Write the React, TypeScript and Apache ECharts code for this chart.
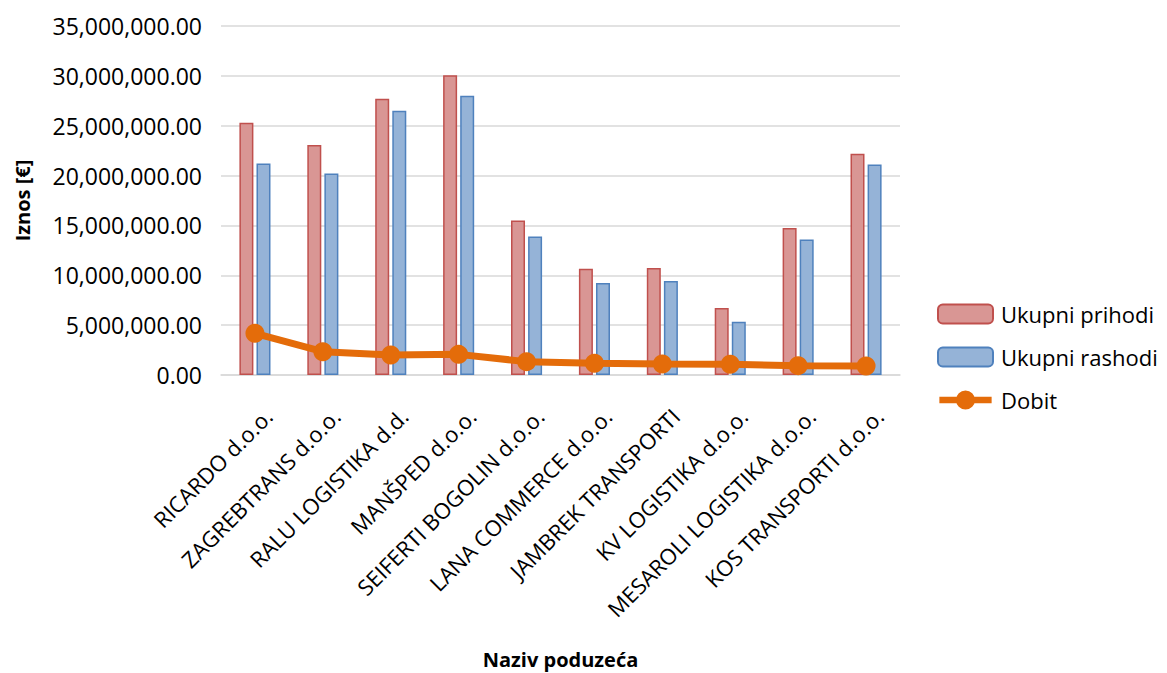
import React, { useEffect, useRef } from "react";
import * as echarts from "echarts";

const categories = [
  "RICARDO d.o.o.",
  "ZAGREBTRANS d.o.o.",
  "RALU LOGISTIKA d.d.",
  "MANŠPED d.o.o.",
  "SEIFERTI BOGOLIN d.o.o.",
  "LANA COMMERCE d.o.o.",
  "JAMBREK TRANSPORTI",
  "KV LOGISTIKA d.o.o.",
  "MESAROLI LOGISTIKA d.o.o.",
  "KOS TRANSPORTI d.o.o.",
];

const prihodi = [25300000, 23070000, 27700000, 30060000, 15500000, 10660000, 10730000, 6720000, 14740000, 22200000];
const rashodi = [21200000, 20200000, 26500000, 28000000, 13900000, 9230000, 9430000, 5350000, 13600000, 21100000];
const dobit = [4180000, 2340000, 2000000, 2070000, 1340000, 1170000, 1100000, 1070000, 940000, 900000];

const FONT = "'Open Sans', 'Noto Sans', sans-serif";

const DOBIT_ICON =
  "path://M0,6.5 L55,6.5 L55,13.5 L0,13.5 Z M17.5,10 A10,10 0 1,1 37.5,10 A10,10 0 1,1 17.5,10 Z";

function fmt(v: number): string {
  return v.toLocaleString("en-US", { minimumFractionDigits: 2, maximumFractionDigits: 2 });
}

export default function App() {
  const ref = useRef<HTMLDivElement>(null);
  useEffect(() => {
    if (!ref.current) return;
    const chart = echarts.init(ref.current, undefined, { renderer: "svg" });
    chart.setOption({
      animation: false,
      backgroundColor: "#ffffff",
      textStyle: { fontFamily: FONT, color: "#000" },
      grid: { left: 221, right: 267, top: 26, bottom: 298, containLabel: false, outerBoundsMode: "none" },
      legend: {
        orient: "vertical",
        left: 937,
        top: 303,
        padding: 0,
        itemWidth: 55,
        itemHeight: 19,
        itemGap: 21,
        textStyle: { fontFamily: FONT, fontSize: 22, color: "#000", padding: [0, 0, 0, 3] },
        data: [
          { name: "Ukupni prihodi" },
          { name: "Ukupni rashodi" },
          { name: "Dobit", icon: DOBIT_ICON },
        ],
      },
      xAxis: {
        type: "category",
        data: categories,
        name: "Naziv poduzeća",
        nameLocation: "middle",
        nameGap: 284,
        nameMoveOverlap: false,
        nameTextStyle: { fontFamily: FONT, fontSize: 20, fontWeight: "bold", color: "#000", verticalAlign: "middle" },
        axisLine: { show: true, lineStyle: { color: "#d9d9d9", width: 1.5 } },
        axisTick: { show: false },
        axisLabel: {
          rotate: 45,
          interval: 0,
          margin: 24,
          align: "right",
          verticalAlign: "top",
          lineHeight: 37,
          fontFamily: FONT,
          fontSize: 22,
          color: "#000",
        },
      },
      yAxis: {
        type: "value",
        min: 0,
        max: 35000000,
        interval: 5000000,
        name: "Iznos [€]",
        nameLocation: "middle",
        nameGap: 199,
        nameRotate: 90,
        nameMoveOverlap: false,
        nameTextStyle: { fontFamily: FONT, fontSize: 20, fontWeight: "bold", color: "#000", verticalAlign: "middle" },
        axisLine: { show: false },
        axisTick: { show: false },
        splitLine: { lineStyle: { color: "#d9d9d9", width: 1.5 } },
        axisLabel: {
          margin: 19,
          fontFamily: FONT,
          fontSize: 23,
          color: "#000",
          formatter: (v: number) => fmt(v),
        },
      },
      series: [
        {
          name: "Ukupni prihodi",
          type: "bar",
          data: prihodi,
          barWidth: 14,
          barGap: "22%",
          itemStyle: { color: "#D99694", borderColor: "#C0504D", borderWidth: 1.5 },
        },
        {
          name: "Ukupni rashodi",
          type: "bar",
          data: rashodi,
          barWidth: 14,
          barGap: "22%",
          itemStyle: { color: "#95B3D7", borderColor: "#4F81BD", borderWidth: 1.5 },
        },
        {
          name: "Dobit",
          type: "line",
          data: dobit,
          symbol: "circle",
          symbolSize: 19,
          lineStyle: { color: "#E46C0A", width: 7 },
          itemStyle: { color: "#E46C0A" },
          z: 5,
        },
      ],
    });
    return () => chart.dispose();
  }, []);
  return (
    <div
      ref={ref}
      style={{ position: "absolute", left: 0, top: 0, width: 1167, height: 673, overflow: "hidden" }}
    />
  );
}
